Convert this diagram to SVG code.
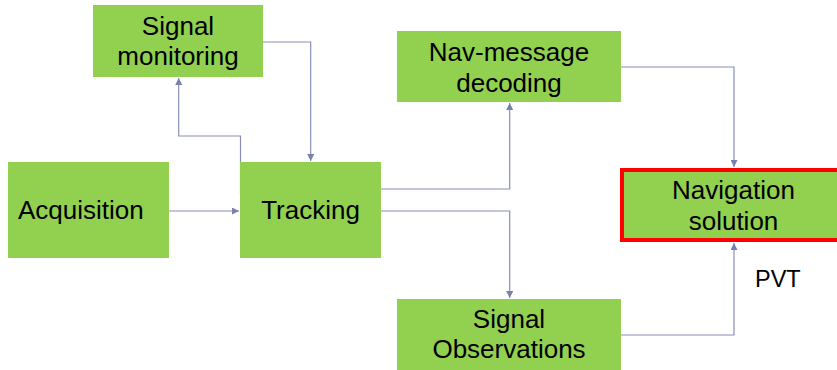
<svg xmlns="http://www.w3.org/2000/svg" width="837" height="370" viewBox="0 0 837 370">
<style>
.box{fill:#92D050;}
.t{font-family:"Liberation Sans",Arial,sans-serif;font-size:26px;fill:#000;text-anchor:middle;}
.c{fill:none;stroke:#8990B8;stroke-width:1.2;}
</style>
<defs>
<marker id="ah" viewBox="0 0 10 10" refX="10" refY="5" markerWidth="7" markerHeight="7" markerUnits="userSpaceOnUse" orient="auto">
<path d="M0,0 L10,5 L0,10 z" fill="#7880AE"/>
</marker>
</defs>
<rect width="837" height="370" fill="#fff"/>
<g id="connectors">
<path class="c" d="M263,42 H310.7 V161" marker-end="url(#ah)"/>
<path class="c" d="M240.5,194 V136 H178.7 V78" marker-end="url(#ah)"/>
<path class="c" d="M169,211 H239" marker-end="url(#ah)"/>
<path class="c" d="M381,189 H509.7 V103" marker-end="url(#ah)"/>
<path class="c" d="M381,211 H509.7 V298" marker-end="url(#ah)"/>
<path class="c" d="M621,67 H734 V167" marker-end="url(#ah)"/>
<path class="c" d="M621,335 H734 V243" marker-end="url(#ah)"/>
</g>
<g id="signal-monitoring">
<rect class="box" x="93" y="5" width="170" height="72"/>
<text class="t" x="178" y="35">Signal</text>
<text class="t" x="178" y="65">monitoring</text>
</g>
<g id="acquisition">
<rect class="box" x="8" y="162" width="161" height="96"/>
<text class="t" x="18" y="218.5" style="text-anchor:start">Acquisition</text>
</g>
<g id="tracking">
<rect class="box" x="240" y="162" width="141" height="96"/>
<text class="t" x="310.5" y="218.5">Tracking</text>
</g>
<g id="nav-message">
<rect class="box" x="397" y="31" width="224" height="71"/>
<text class="t" x="509" y="61">Nav-message</text>
<text class="t" x="509" y="91.5">decoding</text>
</g>
<g id="navigation-solution">
<rect class="box" x="622" y="170" width="220" height="70" stroke="#FF0000" stroke-width="4"/>
<text class="t" x="733.5" y="198.5">Navigation</text>
<text class="t" x="733.5" y="230">solution</text>
</g>
<g id="signal-observations">
<rect class="box" x="397" y="299" width="224" height="71"/>
<text class="t" x="509" y="327.5">Signal</text>
<text class="t" x="509" y="358">Observations</text>
</g>
<g id="pvt-label">
<text x="755" y="286.5" style="font-family:'Liberation Sans',Arial,sans-serif;font-size:23.5px;fill:#000">PVT</text>
</g>
</svg>
